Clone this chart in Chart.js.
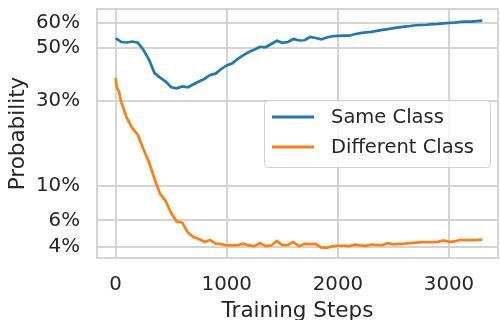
<!DOCTYPE html>
<html>
<head>
<meta charset="utf-8">
<script src="https://cdn.jsdelivr.net/npm/chart.js@4.4.1/dist/chart.umd.min.js"></script>
<style>
  html, body { margin: 0; padding: 0; background: #fff; }
</style>
</head>
<body>
<canvas id="chart" width="500" height="320"></canvas>
<script>
const steps = [
  0, 10, 30, 50, 100, 150, 200, 250, 300, 350, 400, 450, 500, 550, 600, 650, 700, 750,
  800, 850, 900, 950, 1000, 1050, 1100, 1150, 1200, 1250, 1300, 1350, 1400, 1450,
  1500, 1550, 1600, 1650, 1700, 1750, 1800, 1850, 1900, 1950, 2000, 2050, 2100,
  2150, 2200, 2250, 2300, 2350, 2400, 2450, 2500, 2550, 2600, 2650, 2700, 2750,
  2800, 2850, 2900, 2950, 3000, 3050, 3100, 3150, 3200, 3250, 3300
];
const sameClass = [
  0.540, 0.537, 0.532, 0.525, 0.523, 0.527, 0.522, 0.493, 0.455, 0.402, 0.385, 0.370, 0.349,
  0.345, 0.352, 0.349, 0.360, 0.370, 0.380, 0.395, 0.400, 0.418, 0.432, 0.440,
  0.458, 0.473, 0.485, 0.495, 0.506, 0.504, 0.517, 0.530, 0.522, 0.525, 0.537,
  0.531, 0.532, 0.545, 0.541, 0.536, 0.543, 0.548, 0.549, 0.550, 0.550, 0.556,
  0.560, 0.563, 0.565, 0.569, 0.573, 0.576, 0.580, 0.583, 0.586, 0.588, 0.591,
  0.592, 0.593, 0.595, 0.596, 0.598, 0.600, 0.601, 0.604, 0.605, 0.605, 0.607,
  0.609
];
const differentClass = [
  0.384, 0.348, 0.333, 0.297, 0.248, 0.218, 0.200, 0.166, 0.139, 0.110, 0.089, 0.080, 0.067,
  0.059, 0.058, 0.050, 0.0466, 0.0452, 0.0432, 0.0446, 0.0422, 0.0418, 0.0410,
  0.0410, 0.0412, 0.0421, 0.0410, 0.0406, 0.0425, 0.0406, 0.0410, 0.0439, 0.0412,
  0.0414, 0.0432, 0.0405, 0.0420, 0.0418, 0.0420, 0.0398, 0.0395, 0.0404, 0.0408,
  0.0408, 0.0406, 0.0415, 0.0410, 0.0408, 0.0416, 0.0413, 0.0412, 0.0424, 0.0417,
  0.0420, 0.0422, 0.0425, 0.0428, 0.0432, 0.0432, 0.0432, 0.0433, 0.0443, 0.0433,
  0.0436, 0.0447, 0.0445, 0.0445, 0.0446, 0.0448
];
const probTicks = [0.04, 0.06, 0.10, 0.30, 0.50, 0.60];
const stepTicks = [0, 1000, 2000, 3000];

const GRID = '#d4d4d4';
const TEXT = '#262626';
const FONT = 'DejaVu Sans';

const logit = p => Math.log(p / (1 - p));
const expit = z => 1 / (1 + Math.exp(-z));

// logit probability axis, like matplotlib's set_yscale('logit')
class LogitScale extends Chart.LinearScale {
  static id = 'logit';
  buildTicks() {
    return probTicks.map(v => ({ value: v }));
  }
  configure() {
    super.configure();
    this._lo = logit(this.min);
    this._hi = logit(this.max);
  }
  getPixelForValue(value) {
    return this.getPixelForDecimal((logit(value) - this._lo) / (this._hi - this._lo));
  }
  getValueForPixel(pixel) {
    return expit(this._lo + this.getDecimalForPixel(pixel) * (this._hi - this._lo));
  }
}
Chart.register(LogitScale);

const framePlugin = {
  id: 'frame',
  beforeDatasetsDraw(chart) {
    const { ctx, chartArea: a } = chart;
    ctx.save();
    ctx.strokeStyle = GRID;
    ctx.lineWidth = 2;
    ctx.strokeRect(a.left, a.top, a.right - a.left, a.bottom - a.top);
    ctx.restore();
  }
};

const legendPlugin = {
  id: 'insideLegend',
  afterDatasetsDraw(chart) {
    const ctx = chart.ctx;
    const x = 264, y = 100, w = 226, h = 67;
    ctx.save();
    ctx.beginPath();
    ctx.roundRect(x + 0.5, y + 0.5, w, h, 4);
    ctx.fillStyle = 'rgba(255,255,255,0.8)';
    ctx.fill();
    ctx.strokeStyle = '#d0d0d0';
    ctx.lineWidth = 1;
    ctx.stroke();
    ctx.font = '19.5px "' + FONT + '"';
    ctx.textBaseline = 'middle';
    chart.data.datasets.forEach((ds, i) => {
      const ly = 117 + i * 30;
      ctx.strokeStyle = ds.borderColor;
      ctx.lineWidth = 2.8;
      ctx.beginPath();
      ctx.moveTo(272, ly);
      ctx.lineTo(314, ly);
      ctx.stroke();
      ctx.fillStyle = TEXT;
      ctx.fillText(ds.label, 331, ly + 1);
    });
    ctx.restore();
  }
};

new Chart(document.getElementById('chart'), {
  type: 'line',
  data: {
    datasets: [
      {
        label: 'Same Class',
        data: steps.map((s, i) => ({ x: s, y: sameClass[i] })),
        borderColor: '#1f77b4',
        borderWidth: 2.7,
        pointRadius: 0,
        tension: 0,
      },
      {
        label: 'Different Class',
        data: steps.map((s, i) => ({ x: s, y: differentClass[i] })),
        borderColor: '#ff7f0e',
        borderWidth: 2.7,
        pointRadius: 0,
        tension: 0,
      },
    ],
  },
  options: {
    responsive: false,
    animation: false,
    layout: { padding: { top: 9, right: 2, left: 0, bottom: 0 } },
    plugins: {
      legend: { display: false },
      tooltip: { enabled: false },
    },
    scales: {
      x: {
        type: 'linear',
        min: -168,
        max: 3441,
        afterBuildTicks: axis => { axis.ticks = stepTicks.map(v => ({ value: v })); },
        afterFit: axis => {
          axis.height = 62;
          axis.paddingLeft = 0;
          axis.paddingRight = 0;
        },
        grid: { color: GRID, lineWidth: 2, drawTicks: false },
        border: { display: false },
        ticks: {
          color: TEXT,
          font: { family: FONT, size: 19.8 },
          padding: 15,
          maxRotation: 0,
          callback: v => String(v),
        },
        title: {
          display: true,
          text: 'Training Steps',
          color: TEXT,
          font: { family: FONT, size: 21.5, lineHeight: 1 },
          padding: { top: 0, bottom: -2 },
        },
      },
      y: {
        type: 'logit',
        min: 0.0338,
        max: 0.652,
        afterFit: axis => {
          axis.width = 97;
          axis.paddingTop = 0;
          axis.paddingBottom = 0;
        },
        grid: { color: GRID, lineWidth: 2, drawTicks: false },
        border: { display: false },
        ticks: {
          color: TEXT,
          font: { family: FONT, size: 19.8 },
          padding: 17,
          callback: v => Math.round(v * 100) + '%',
        },
        title: {
          display: true,
          text: 'Probability',
          color: TEXT,
          font: { family: FONT, size: 21.5, lineHeight: 1 },
          padding: { top: 8, bottom: 0 },
        },
      },
    },
  },
  plugins: [framePlugin, legendPlugin],
});
</script>
</body>
</html>
